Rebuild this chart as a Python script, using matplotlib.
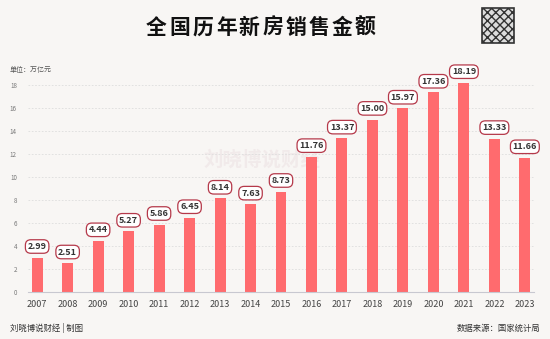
import numpy as np
import matplotlib.pyplot as plt
from matplotlib.patches import Rectangle

plt.rcParams['font.family'] = ['Noto Sans CJK SC', 'DejaVu Sans']
plt.rcParams['hatch.color'] = '#333333'

years = ['2007', '2008', '2009', '2010', '2011', '2012', '2013', '2014',
         '2015', '2016', '2017', '2018', '2019', '2020', '2021', '2022', '2023']
sales = [2.99, 2.51, 4.44, 5.27, 5.86, 6.45, 8.14, 7.63,
         8.73, 11.76, 13.37, 15.00, 15.97, 17.36, 18.19, 13.33, 11.66]
yticks = [0, 2, 4, 6, 8, 10, 12, 14, 16, 18]
title = '全国历年新房销售金额'

bg = '#f8f6f4'
fig = plt.figure(figsize=(5.5, 3.39), dpi=100, facecolor=bg)
ax = fig.add_axes([28 / 550, 1 - 292 / 339, (534 - 28) / 550, 218.5 / 339])
ax.set_facecolor(bg)


def fy(py):
    # pixel row from top -> figure fraction
    return 1 - py / 339


x = np.arange(len(years))
ax.bar(x, sales, width=0.36, color='#ff6b6e', zorder=2)

for xi, v in zip(x, sales):
    ax.annotate(f'{v:.2f}', (xi, v), xytext=(0, 8), textcoords='offset points',
                ha='center', va='center', fontsize=6.5, fontweight='bold', color='#333333',
                bbox=dict(boxstyle='round,pad=0.25,rounding_size=0.6', fc='white',
                          ec='#b5394a', lw=0.9),
                annotation_clip=False, zorder=3)

ax.set_xlim(-0.3, len(years) - 0.7)
ax.set_ylim(0, 19)
ax.set_xticks(x)
ax.set_xticklabels(years, fontsize=6.5, color='#444444')
ax.set_yticks(yticks)
ax.set_yticklabels([str(t) for t in yticks], fontsize=4.5, color='#777777')
ax.tick_params(axis='both', length=0)
ax.tick_params(axis='x', pad=6)
ax.tick_params(axis='y', pad=8)
ax.grid(axis='y', color='#dddddd', lw=0.6, ls=(0, (2, 2)), zorder=0)
for s in ['top', 'right', 'left']:
    ax.spines[s].set_visible(False)
ax.spines['bottom'].set_color('#c8c8d0')
ax.spines['bottom'].set_linewidth(0.8)

ax.text(262 / 550, fy(160), '刘晓博说财经', transform=fig.transFigure, ha='center', va='center',
        fontsize=14, fontweight='bold', color='#f1eaea', zorder=1)

# title with wide letter spacing
step = 23.2
x0 = 261 - step * (len(title) - 1) / 2
for i, ch in enumerate(title):
    fig.text((x0 + i * step) / 550, fy(27), ch, ha='center', va='center',
             fontsize=15, fontweight='bold', color='#111111')

# QR code placeholder
fig.patches.append(Rectangle((482 / 550, fy(43)), 32 / 550, 35 / 339,
                             transform=fig.transFigure, fc='#dddddd', ec='#333333',
                             lw=1.2, hatch='xxxx'))

fig.text(10 / 550, fy(70), '单位：万亿元', ha='left', va='center',
         fontsize=5, color='#555555')
fig.text(10 / 550, fy(328), '刘晓博说财经 | 制图', ha='left', va='center',
         fontsize=6, color='#333333')
fig.text(540 / 550, fy(328), '数据来源：国家统计局', ha='right', va='center',
         fontsize=6, color='#333333')

fig.savefig('out.png', dpi=100, facecolor=bg)
